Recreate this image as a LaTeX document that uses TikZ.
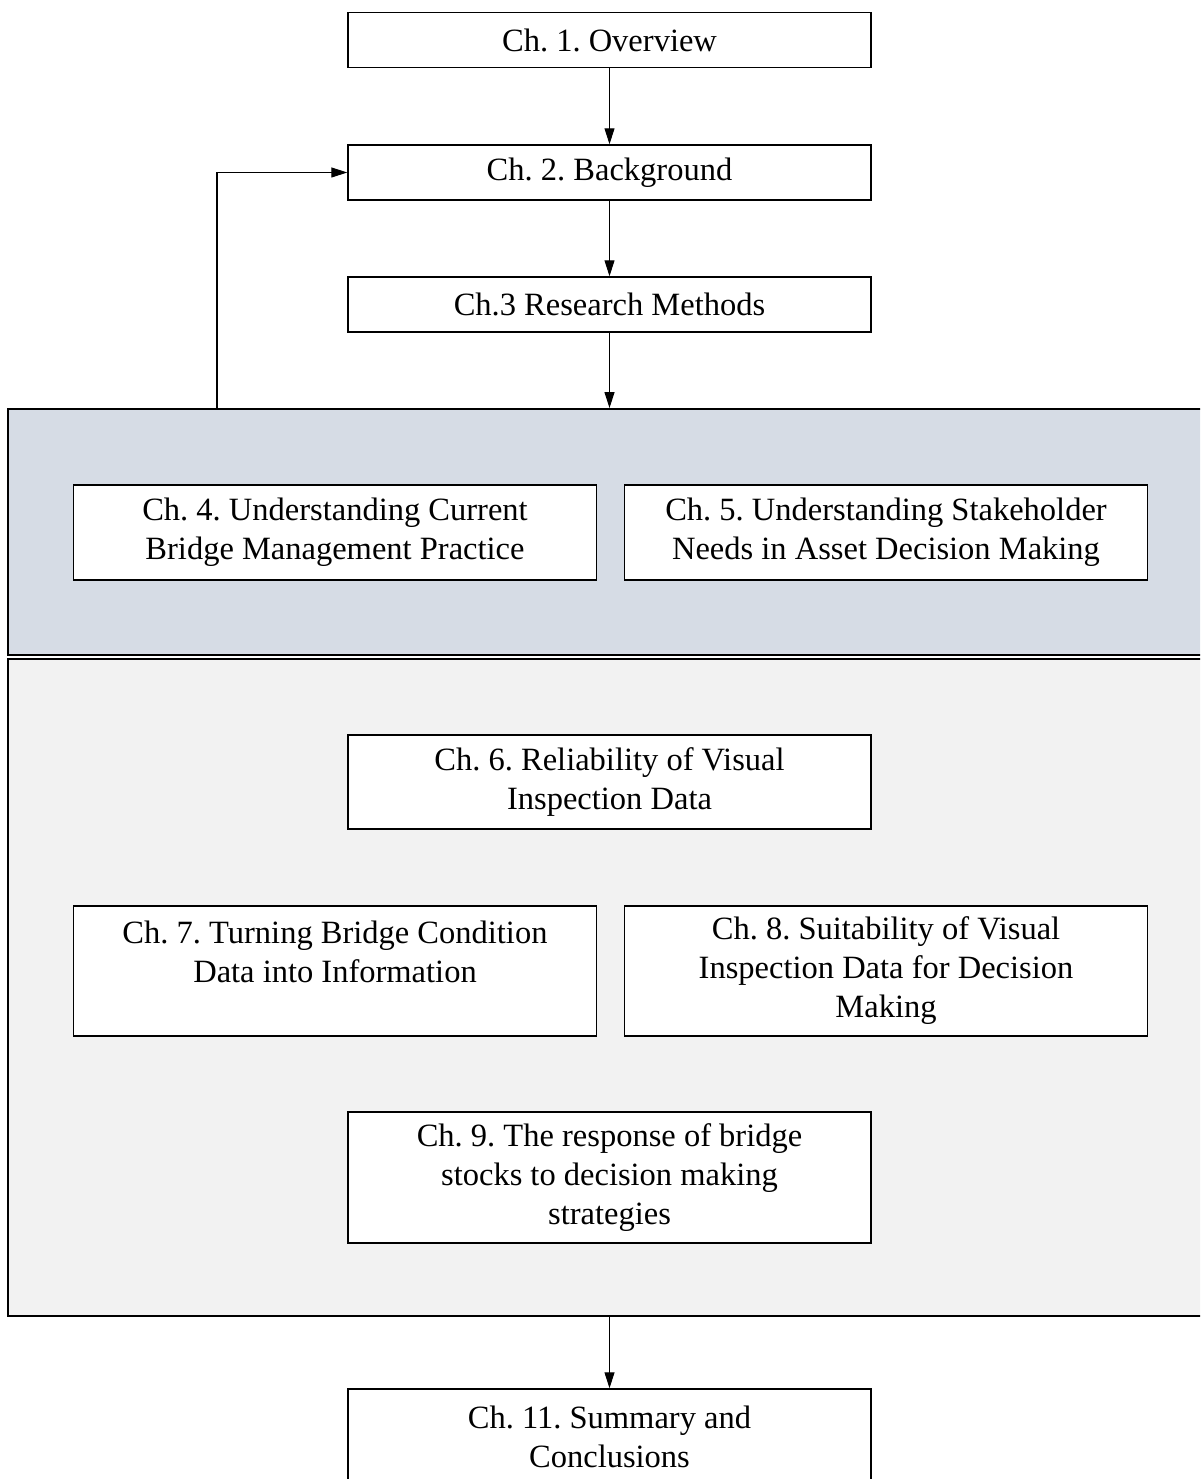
\documentclass[tikz,border=0pt]{standalone}
\usepackage{fontspec}
\setmainfont{Liberation Serif}
\usepackage{tikz}
\usetikzlibrary{positioning, arrows, arrows.meta}
\frenchspacing

\begin{document}
\begin{tikzpicture}[x=0.02cm, y=-0.02cm,
        >={Triangle[length=3.2mm, width=2mm]},
        chapter/.style={shape = rectangle, draw = black, line width=0.85pt, fill=white,
            minimum width=10.46cm, minimum height=1.1cm, align=center, inner sep=2pt,
            font=\fontsize{18.5}{22.2}\selectfont},
        panel/.style={shape = rectangle, draw = black, line width=1.1pt, inner sep=0pt}]
            \clip (0, 0) rectangle (1200, 1479);

            % stage panels
            \node [panel, fill={rgb,255:red,214;green,220;blue,229}, minimum width=24.8cm, minimum height=4.92cm] (stageA) at (628, 532) {};
            \node [panel, fill={rgb,255:red,242;green,242;blue,242}, minimum width=24.8cm, minimum height=13.14cm] (stageB) at (628, 987.5) {};

            \node [chapter] (overview) at (609.5, 40) {Ch. 1. Overview};
            \node [chapter] (background) at (609.5, 172.5) {Ch. 2. Background};
            \node [chapter] (methods) at (609.5, 304.5) {Ch.3 Research Methods};

            \node [chapter, minimum height=1.9cm] (practice) at (335, 532.5) {Ch. 4. Understanding Current\\Bridge Management Practice};
            \node [chapter, minimum height=1.9cm] (stakeholder) at (886, 532.5) {Ch. 5. Understanding Stakeholder\\Needs in Asset Decision Making};

            \node [chapter, minimum height=1.88cm] (reliability) at (609.5, 782) {Ch. 6. Reliability of Visual\\Inspection Data};
            \node [chapter, minimum height=2.6cm] (information) at (335, 971) {Ch. 7. Turning Bridge Condition\\Data into Information\\\mbox{}};
            \node [chapter, minimum height=2.6cm] (suitability) at (886, 971) {Ch. 8. Suitability of Visual\\Inspection Data for Decision\\Making};
            \node [chapter, minimum height=2.62cm] (response) at (609.5, 1177.5) {Ch. 9. The response of bridge\\stocks to decision making\\strategies};

            \node [chapter, minimum height=1.9cm] (summary) at (609.5, 1436.5) {Ch. 11. Summary and\\Conclusions};

            \coordinate (loop) at (217, 409);

            \draw [->, line width=0.6pt] (overview) -- (background);
            \draw [->, line width=0.6pt] (background) -- (methods);
            \draw [->, line width=0.6pt] (methods) -- (methods |- stageA.north);
            \draw [->, line width=0.6pt] (loop) |- (background.west);
            \draw [->, line width=0.6pt] (stageB.south -| summary) -- (summary);
        \end{tikzpicture}
\end{document}
